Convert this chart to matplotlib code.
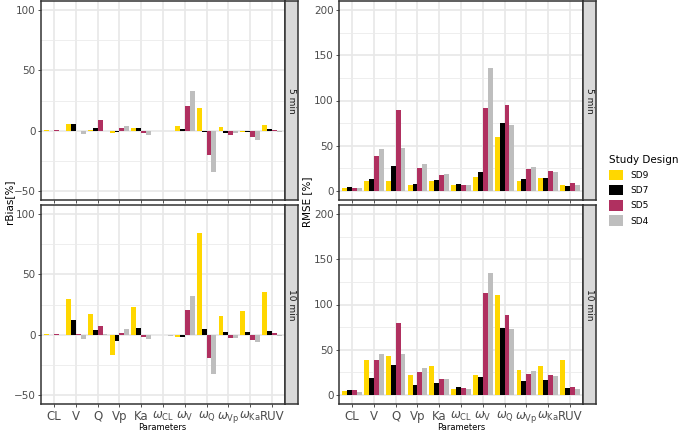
import numpy as np
import matplotlib.pyplot as plt
from matplotlib.patches import Patch

# parametros y disenos
params = ['CL', 'V', 'Q', 'Vp', 'Ka', r'$\omega_{\mathrm{CL}}$', r'$\omega_{\mathrm{V}}$',
          r'$\omega_{\mathrm{Q}}$', r'$\omega_{\mathrm{Vp}}$', r'$\omega_{\mathrm{Ka}}$', 'RUV']
designs = ['SD9', 'SD7', 'SD5', 'SD4']
colors = ['#FFD700', '#000000', '#B03060', '#BEBEBE']
panels = ['5 min', '10 min']

# rBias [%]
bias_5 = {
    'SD9': [0.3, 5.5, 0.5, -1.6, 2.2, -0.5, 4.0, 18.7, 3.0, -0.8, 4.7],
    'SD7': [0.0, 5.5, 2.5, -0.8, 2.0, -0.5, 1.0, -1.4, -1.6, -1.4, 1.4],
    'SD5': [0.2, -0.5, 8.5, 2.5, -2.0, -0.5, 20.5, -20.3, -3.3, -5.5, 0.5],
    'SD4': [0.0, -3.0, 0.0, 4.0, -4.0, -0.5, 33.0, -34.6, -2.2, -7.7, -0.8],
}
bias_10 = {
    'SD9': [0.5, 29.6, 17.4, -16.6, 22.7, -0.3, -1.9, 84.5, 15.2, 19.6, 35.0],
    'SD7': [0.0, 12.2, 3.6, -5.5, 5.8, -0.2, -2.2, 5.0, 1.9, 2.5, 3.0],
    'SD5': [0.2, 0.8, 7.2, 1.7, -1.7, -0.3, 20.7, -19.6, -2.5, -4.1, 1.1],
    'SD4': [0.0, -4.0, 0.8, 4.4, -4.0, -1.0, 32.3, -33.0, -2.5, -6.4, -1.4],
}
# RMSE [%]
rmse_5 = {
    'SD9': [3.7, 10.6, 11.4, 6.2, 10.6, 7.0, 15.8, 60.0, 10.6, 14.7, 7.0],
    'SD7': [4.4, 13.2, 27.5, 7.7, 12.1, 8.0, 21.2, 75.0, 13.2, 13.9, 5.9],
    'SD5': [3.7, 38.5, 89.7, 25.3, 17.2, 7.0, 92.0, 94.5, 24.5, 21.6, 9.2],
    'SD4': [2.9, 46.2, 47.3, 30.0, 18.3, 6.6, 135.5, 73.0, 26.7, 21.2, 7.0],
}
rmse_10 = {
    'SD9': [4.4, 38.9, 43.3, 21.7, 31.6, 7.0, 21.7, 110.5, 27.5, 31.9, 38.5],
    'SD7': [5.1, 18.7, 32.7, 10.6, 13.2, 8.4, 19.8, 74.1, 15.4, 16.1, 7.3],
    'SD5': [5.1, 38.2, 80.0, 25.0, 17.2, 7.7, 113.0, 88.0, 23.1, 22.0, 9.2],
    'SD4': [2.9, 45.1, 45.1, 29.7, 17.2, 6.6, 134.3, 72.7, 26.0, 21.0, 7.0],
}

W, H = 685, 432
fig = plt.figure(figsize=(W / 100, H / 100), dpi=100)

def box(x0, y0, x1, y1):
    # pixeles (desde arriba) a fraccion
    return [x0 / W, 1 - y1 / H, (x1 - x0) / W, (y1 - y0) / H]

def panel(rect, data, ylim, major, minor, label, show_x):
    ax = fig.add_axes(rect)
    x = np.arange(1, len(params) + 1)
    bw = 0.9 / len(designs)
    for i, d in enumerate(designs):
        ax.bar(x - 0.45 + bw * (i + 0.5), data[d], width=bw, color=colors[i], zorder=3)
    ax.set_xlim(0.4, len(params) + 0.6)
    ax.set_ylim(*ylim)
    ax.set_yticks(major)
    ax.set_yticks(minor, minor=True)
    ax.set_xticks(x)
    ax.grid(which='major', color='#E8E8E8', linewidth=1.2, zorder=0)
    ax.grid(which='minor', axis='y', color='#EBEBEB', linewidth=0.6, zorder=0)
    ax.tick_params(which='minor', length=0)
    ax.tick_params(which='major', length=2.5, width=0.6, color='#333333')
    ax.tick_params(axis='y', labelsize=7.5, labelcolor='#4D4D4D', pad=1.5)
    if show_x:
        ax.set_xticklabels(params, fontsize=8.5, color='#4D4D4D')
        ax.tick_params(axis='x', pad=1.5)
    else:
        ax.set_xticklabels([])
    for s in ax.spines.values():
        s.set_color('#333333')
        s.set_linewidth(1.1)
    # strip
    sx = fig.add_axes([rect[0] + rect[2], rect[1], 13 / W, rect[3]])
    sx.set_facecolor('#D9D9D9')
    sx.set_xticks([])
    sx.set_yticks([])
    for s in sx.spines.values():
        s.set_color('#333333')
        s.set_linewidth(1.1)
    sx.text(0.5, 0.5, label, rotation=270, ha='center', va='center', fontsize=6.5,
            color='#1A1A1A', transform=sx.transAxes)
    return ax

bias_lim = (-57.5, 107.5)
rmse_lim = (-10, 210)
panel(box(41, 1, 285, 200), bias_5, bias_lim, [-50, 0, 50, 100], [-25, 25, 75], panels[0], False)
panel(box(41, 205, 285, 404), bias_10, bias_lim, [-50, 0, 50, 100], [-25, 25, 75], panels[1], True)
panel(box(339, 1, 583, 200), rmse_5, rmse_lim, [0, 50, 100, 150, 200], [25, 75, 125, 175], panels[0], False)
panel(box(339, 205, 583, 404), rmse_10, rmse_lim, [0, 50, 100, 150, 200], [25, 75, 125, 175], panels[1], True)

fig.text(9 / W, 1 - 202 / H, 'rBias[%]', rotation=90, ha='center', va='center', fontsize=7.5)
fig.text(307 / W, 1 - 202 / H, 'RMSE [%]', rotation=90, ha='center', va='center', fontsize=7.5)
fig.text(162 / W, 1 - 427 / H, 'Parameters', ha='center', va='center', fontsize=6)
fig.text(461 / W, 1 - 427 / H, 'Parameters', ha='center', va='center', fontsize=6)

handles = [Patch(facecolor=c, edgecolor='none') for c in colors]
leg = fig.legend(handles, designs, title='Study Design', loc='upper left',
                 bbox_to_anchor=(609 / W, 1 - 155 / H), frameon=False, fontsize=6.5,
                 title_fontsize=7.5, handlelength=1.55, handleheight=1.45,
                 labelspacing=0.5, handletextpad=0.8, borderaxespad=0, borderpad=0)
leg._legend_box.align = 'left'

fig.savefig('out.png', dpi=100)
